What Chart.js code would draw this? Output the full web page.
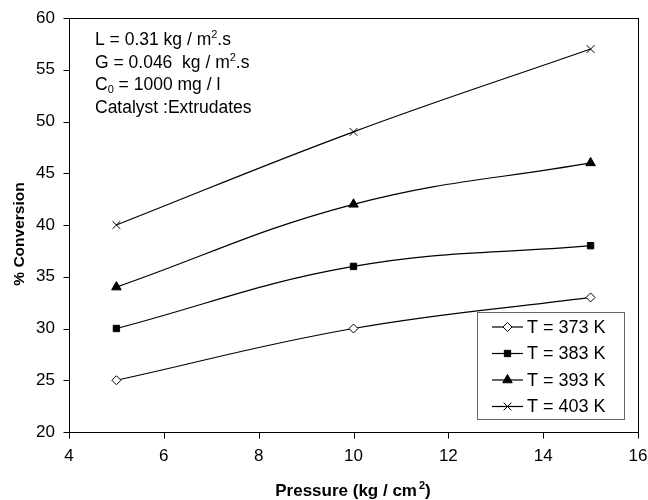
<!DOCTYPE html>
<html><head><meta charset="utf-8">
<script src="https://cdn.jsdelivr.net/npm/chart.js@4/dist/chart.umd.min.js"></script>
<style>html,body{margin:0;padding:0;background:#fff}#wrap{width:648px;height:500px}</style>
</head><body><div id="wrap"><canvas id="c" width="648" height="500"></canvas></div>
<script>
const pressure = [5, 10, 15];
const seriesNames = ['T = 373 K', 'T = 383 K', 'T = 393 K', 'T = 403 K'];
const t373 = [25, 30, 33];
const t383 = [30, 36, 38];
const t393 = [34, 42, 46];
const t403 = [40, 49, 57];
const xTicks = [4, 6, 8, 10, 12, 14, 16];
const yTicks = [20, 25, 30, 35, 40, 45, 50, 55, 60];
const notes = ['L = 0.31 kg / m|2|.s', 'G = 0.046  kg / m|2|.s', 'C_0 = 1000 mg / l', 'Catalyst :Extrudates'];

const FONT = '"Liberation Sans", Arial, sans-serif';
const styles = [
  {pointStyle:'rectRot', radius:4.5, bg:'#fff'},
  {pointStyle:'rect', radius:4.5, bg:'#000'},
  {pointStyle:'triangle', radius:5.5, bg:'#000'},
  {pointStyle:'crossRot', radius:5.5, bg:'#000'}
];
const vals = [t373, t383, t393, t403];
const datasets = vals.map((v,i)=>({
  label: seriesNames[i],
  data: pressure.map((p,j)=>({x:p, y:v[j]})),
  borderColor:'#000', borderWidth:1.2, backgroundColor:styles[i].bg,
  pointStyle:styles[i].pointStyle, pointRadius:styles[i].radius,
  pointBorderColor:'#000', pointBorderWidth:1, pointBackgroundColor:styles[i].bg,
  tension:0.4, fill:false
}));

function drawMarker(ctx, style, x, y, r, bg){
  ctx.save(); ctx.strokeStyle='#000'; ctx.lineWidth=1; ctx.fillStyle=bg;
  ctx.beginPath();
  if(style==='rectRot'){ctx.moveTo(x, y-r);ctx.lineTo(x+r,y);ctx.lineTo(x,y+r);ctx.lineTo(x-r,y);ctx.closePath();ctx.fill();ctx.stroke();}
  else if(style==='rect'){const h=r*0.7071;ctx.rect(x-h,y-h,2*h,2*h);ctx.fill();ctx.stroke();}
  else if(style==='triangle'){ctx.moveTo(x,y-r);ctx.lineTo(x+r*0.866,y+r*0.5);ctx.lineTo(x-r*0.866,y+r*0.5);ctx.closePath();ctx.fill();ctx.stroke();}
  else {const d=r*0.7071;ctx.moveTo(x-d,y-d);ctx.lineTo(x+d,y+d);ctx.moveTo(x+d,y-d);ctx.lineTo(x-d,y+d);ctx.stroke();}
  ctx.restore();
}

const deco = {
  id:'deco',
  afterDraw(chart){
    const ctx = chart.ctx, a = chart.chartArea, xs = chart.scales.x, ys = chart.scales.y;
    ctx.save();
    ctx.strokeStyle='#000'; ctx.lineWidth=1;
    const L=Math.round(a.left)+0.5, T=Math.round(a.top)+0.5, R=Math.round(a.right)+0.5, B=Math.round(a.bottom)+0.5;
    ctx.strokeRect(L, T, R-L, B-T);
    ctx.beginPath();
    xTicks.forEach(v=>{const px=Math.round(xs.getPixelForValue(v))+0.5; ctx.moveTo(px,B); ctx.lineTo(px,B+6);});
    yTicks.forEach(v=>{const py=Math.round(ys.getPixelForValue(v))+0.5; ctx.moveTo(L,py); ctx.lineTo(L-6,py);});
    ctx.stroke();
    // notes
    ctx.fillStyle='#000'; ctx.textBaseline='alphabetic'; ctx.textAlign='left';
    const big='17.5px '+FONT, small='11px '+FONT;
    const nx = 95, ny0 = 45, dy = 22.7;
    notes.forEach((t,i)=>{
      let x = nx; const y = ny0 + i*dy;
      if(t.startsWith('C_0')){
        ctx.font=big; ctx.fillText('C', x, y); x += ctx.measureText('C').width;
        ctx.font=small; ctx.fillText('0', x, y+3); x += ctx.measureText('0').width;
        ctx.font=big; ctx.fillText(t.slice(3), x, y);
        return;
      }
      t.split('|').forEach((p,k)=>{
        if(k===1){ctx.font=small; ctx.fillText(p, x, y-7); x+=ctx.measureText(p).width;}
        else {ctx.font=big; ctx.fillText(p, x, y); x+=ctx.measureText(p).width;}
      });
    });
    // legend
    const lx=477, ly=312, lw=147, lh=107;
    ctx.fillStyle='#fff'; ctx.fillRect(lx,ly,lw,lh);
    ctx.strokeStyle='#666'; ctx.lineWidth=1; ctx.strokeRect(lx+0.5,ly+0.5,lw,lh);
    const rows=[327,353.5,380,406.5];
    seriesNames.forEach((n,i)=>{
      const y = rows[i];
      ctx.strokeStyle='#000'; ctx.lineWidth=1.2;
      ctx.beginPath(); ctx.moveTo(492,y); ctx.lineTo(523,y); ctx.stroke();
      drawMarker(ctx, styles[i].pointStyle, 507.5, y, styles[i].radius, styles[i].bg);
      ctx.fillStyle='#000'; ctx.font='18px '+FONT; ctx.textBaseline='middle'; ctx.textAlign='left';
      ctx.fillText(n, 527, y+1);
    });
    // axis titles
    ctx.fillStyle='#000'; ctx.textBaseline='alphabetic';
    const tb='bold 17px '+FONT, ts='bold 11px '+FONT;
    const tx = 353, ty = 496;
    const main='Pressure (kg / cm', sup='2', end=')';
    ctx.font=tb; const w1=ctx.measureText(main).width, w3=ctx.measureText(end).width;
    ctx.font=ts; const w2=ctx.measureText(sup).width;
    let sx = tx-(w1+w2+w3+2)/2; ctx.textAlign='left';
    ctx.font=tb; ctx.fillText(main, sx, ty); sx+=w1+2;
    ctx.font=ts; ctx.fillText(sup, sx, ty-7); sx+=w2;
    ctx.font=tb; ctx.fillText(end, sx, ty);
    ctx.translate(20, 234); ctx.rotate(-Math.PI/2); ctx.textAlign='center'; ctx.textBaseline='middle';
    ctx.font='bold 15.5px '+FONT;
    ctx.fillText('% Conversion', 0, 0);
    ctx.restore();
  }
};

new Chart(document.getElementById('c'), {
  type:'line',
  data:{datasets},
  options:{
    responsive:false, animation:false, devicePixelRatio:1,
    layout:{padding:{top:18, right:10, left:0, bottom:0}},
    plugins:{legend:{display:false}, tooltip:{enabled:false}},
    scales:{
      x:{type:'linear', min:4, max:16,
        afterFit(s){s.height=68; s.paddingLeft=0; s.paddingRight=0;},
        afterBuildTicks(s){s.ticks = xTicks.map(v=>({value:v}));},
        grid:{display:false, tickLength:6}, border:{display:false},
        ticks:{color:'#000', font:{family:FONT, size:17}, padding:8, maxRotation:0}},
      y:{min:20, max:60,
        afterFit(s){s.width=69; s.paddingTop=0; s.paddingBottom=0;},
        afterBuildTicks(s){s.ticks = yTicks.map(v=>({value:v}));},
        grid:{display:false, tickLength:6}, border:{display:false},
        ticks:{color:'#000', font:{family:FONT, size:17}, padding:8}}
    }
  },
  plugins:[deco]
});
</script></body></html>
